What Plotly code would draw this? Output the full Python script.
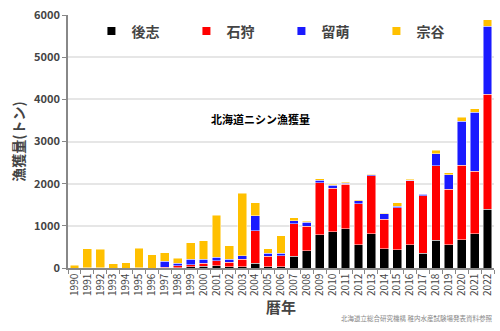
import plotly.graph_objects as go

years = [str(y) for y in range(1990, 2023)]
shiribeshi = [0, 0, 0, 0, 0, 0, 0, 0, 10, 30, 40, 55, 30, 25, 110, 30, 25, 280, 415, 785, 860, 930, 555, 815, 460, 430, 555, 345, 660, 555, 665, 815, 1395]
ishikari = [0, 0, 0, 0, 0, 0, 0, 20, 40, 50, 70, 115, 110, 180, 770, 250, 260, 765, 575, 1235, 1035, 1060, 965, 1370, 700, 995, 1510, 1370, 1760, 1315, 1770, 1485, 2725]
rumoi = [0, 5, 10, 0, 0, 10, 0, 140, 60, 125, 95, 90, 70, 85, 360, 75, 70, 70, 90, 65, 70, 15, 70, 25, 125, 40, 20, 30, 295, 340, 1040, 1395, 1610]
soya = [70, 455, 435, 95, 125, 460, 320, 205, 125, 395, 445, 990, 315, 1480, 310, 100, 405, 75, 25, 30, 25, 25, 25, 15, 15, 85, 20, 15, 80, 45, 95, 85, 160]

names = ["後志", "石狩", "留萌", "宗谷"]
colors = ["#000000", "#ff0000", "#1a1aff", "#ffc000"]
series = [shiribeshi, ishikari, rumoi, soya]

FONT = "Noto Sans CJK JP"
fig = go.Figure()
for name, col, vals in zip(names, colors, series):
    fig.add_trace(go.Bar(x=years, y=vals, name=name, marker=dict(color=col, line=dict(color="rgba(255,255,255,0.6)", width=0.8)),
                         showlegend=False))
for name, col in zip(names, colors):
    fig.add_trace(go.Scatter(x=[None], y=[None], mode="markers", name=name,
                             marker=dict(symbol="square", size=8, color=col)))

fig.update_layout(
    width=500, height=331,
    barmode="stack", bargap=0.32,
    plot_bgcolor="white", paper_bgcolor="white",
    margin=dict(l=68, r=6, t=13, b=63),
    font=dict(family=FONT, color="#444444"),
    showlegend=True,
    legend=dict(orientation="h", x=0.055, y=0.935, xanchor="left", yanchor="middle", traceorder="normal",
                font=dict(size=14, color="#444444", family=FONT, weight="bold"),
                entrywidth=50, itemwidth=30, bgcolor="rgba(0,0,0,0)"),
    xaxis=dict(type="category", tickangle=-90, tickfont=dict(size=10, color="#444444"),
               showline=True, linecolor="#888888", linewidth=1.5, ticks="outside", tickson="boundaries",
               ticklen=4, tickcolor="#888888",
               title=dict(text="暦年", font=dict(size=15, color="#444444", weight="bold"), standoff=2)),
    yaxis=dict(range=[0, 6000], dtick=1000, showgrid=True, gridcolor="#e6e6e6", gridwidth=1.5,
               showline=True, linecolor="#888888", linewidth=1.5, ticks="outside", ticklen=4, tickcolor="#888888",
               tickfont=dict(size=11, color="#444444", weight="bold"),
               title=dict(text="漁獲量(トン)", font=dict(size=14, color="#444444", weight="bold"), standoff=6),
               zeroline=False),
    annotations=[
        dict(text="北海道ニシン漁獲量", x=0.33, y=0.59, xref="paper", yref="paper", xanchor="left", yanchor="middle",
             showarrow=False, font=dict(size=11, color="#000000", family=FONT, weight="bold")),
        dict(text="北海道立総合研究機構 稚内水産試験場発表資料参照", x=1.0, y=-0.17, xref="paper", yref="paper",
             xanchor="right", yanchor="top",
             showarrow=False, font=dict(size=6.5, color="#888888", family=FONT)),
    ],
)
fig.write_html("out.html")
